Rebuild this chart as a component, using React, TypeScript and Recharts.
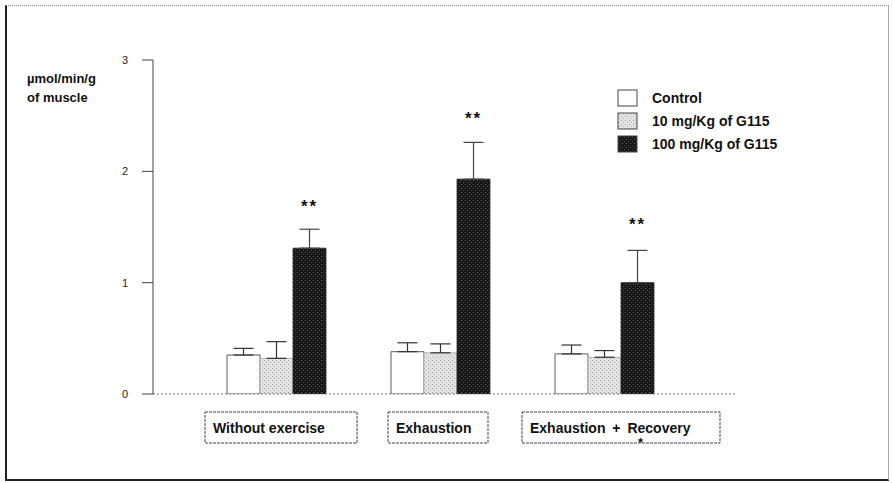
import React from 'react';
import { BarChart, Bar, XAxis, YAxis, ErrorBar, LabelList, Label } from 'recharts';

const categories = ['Without exercise', 'Exhaustion', 'Exhaustion + Recovery'];
const seriesNames = ['Control', '10 mg/Kg of G115', '100 mg/Kg of G115'];
const controlValues = [0.35, 0.38, 0.36];
const controlErrors = [0.06, 0.08, 0.08];
const lowDoseValues = [0.32, 0.37, 0.33];
const lowDoseErrors = [0.15, 0.08, 0.06];
const highDoseValues = [1.31, 1.93, 1.0];
const highDoseErrors = [0.17, 0.33, 0.29];
const significance = ['**', '**', '**'];
const significanceLevels = [1.72, 2.51, 1.55];
const footnotes = ['', '', '*'];
const yTicks = [0, 1, 2, 3];

const FONT = 'Arial, "Liberation Sans", sans-serif';

// label boxes under the groups (style only)
const boxes = [
  { dx: 5, w: 152, fx: 0, ws: 0 },
  { dx: -2, w: 100, fx: 0, ws: 0 },
  { dx: 17, w: 198, fx: 116, ws: 3 },
];

const data = categories.map((name, i) => ({
  name,
  control: controlValues[i],
  controlErr: [0, controlErrors[i]],
  low: lowDoseValues[i],
  lowErr: [0, lowDoseErrors[i]],
  high: highDoseValues[i],
  highErr: [0, highDoseErrors[i]],
}));

function Patterns({ prefix }: { prefix: string }) {
  return (
    <defs>
      <pattern id={prefix + 'light'} width="4" height="4" patternUnits="userSpaceOnUse">
        <rect width="4" height="4" fill="#e4e4e4" />
        <rect x="0" y="0" width="1" height="1" fill="#9a9a9a" />
        <rect x="2" y="2" width="1" height="1" fill="#b0b0b0" />
      </pattern>
      <pattern id={prefix + 'dark'} width="4" height="4" patternUnits="userSpaceOnUse">
        <rect width="4" height="4" fill="#161616" />
        <rect x="1" y="0" width="1" height="1" fill="#6a6a6a" />
        <rect x="3" y="2" width="1" height="1" fill="#555" />
      </pattern>
    </defs>
  );
}

function CategoryTick(props: any) {
  const { x, y, payload, index } = props;
  const b = boxes[index] || boxes[0];
  const left = x + b.dx - b.w / 2;
  const top = y + 18;
  return (
    <g>
      <rect x={left} y={top} width={b.w} height={31} fill="#fff" stroke="#444" strokeWidth={1} strokeDasharray="3 1" />
      <text x={left + 8} y={top + 21} fontFamily={FONT} fontSize={14} fontWeight="bold" fill="#111" wordSpacing={b.ws}>
        {payload.value}
      </text>
      {footnotes[index] ? (
        <text x={left + b.fx} y={top + 35} fontFamily={FONT} fontSize={13} fontWeight="bold" fill="#111">
          {footnotes[index]}
        </text>
      ) : null}
    </g>
  );
}

function StarLabel(props: any) {
  const { x, y, width, height, value, index } = props;
  if (!value) return null;
  const pxPerUnit = height / value;
  const sy = y + height - significanceLevels[index] * pxPerUnit;
  return (
    <text x={x + width / 2} y={sy + 9} textAnchor="middle" fontFamily={FONT} fontSize={17} fontWeight="bold" fill="#111" letterSpacing={2}>
      {significance[index]}
    </text>
  );
}

function YUnit(props: any) {
  const { viewBox } = props;
  return (
    <text fontFamily={FONT} fontSize={13} fontWeight="bold" fill="#111">
      <tspan x={viewBox.x + 27} y={viewBox.y + 23}>µmol/min/g</tspan>
      <tspan x={viewBox.x + 27} y={viewBox.y + 42}>of muscle</tspan>
    </text>
  );
}

const legendFills = ['#fff', 'lgd-light', 'lgd-dark'];

export default function App() {
  return (
    <div style={{ position: 'fixed', left: 0, top: 0, width: 893, height: 483, background: '#fff' }}>
      <div
        style={{
          position: 'absolute', left: 5, top: 5, width: 881, height: 473,
          borderLeft: '2px solid #222', borderTop: '1px dotted #888',
          borderRight: '1px solid #aaa', borderBottom: '2px solid #222',
        }}
      />
      <div style={{ position: 'absolute', left: 0, top: 0 }}>
        <BarChart
          width={893}
          height={483}
          data={data}
          margin={{ top: 60, right: 158, bottom: 29, left: 0 }}
          barGap={0}
          barSize={33}
        >
          <Patterns prefix="bar-" />
          <XAxis
            dataKey="name"
            height={60}
            padding={{ left: 41, right: 49 }}
            axisLine={{ stroke: '#777', strokeDasharray: '2 2' }}
            tickLine={false}
            tickSize={0}
            tickMargin={0}
            interval={0}
            tick={<CategoryTick />}
          />
          <YAxis
            width={153}
            domain={[0, 3]}
            ticks={yTicks}
            allowDataOverflow
            axisLine={{ stroke: '#444' }}
            tickLine={{ stroke: '#444' }}
            tickSize={11}
            tickMargin={14}
            tick={{ fontFamily: FONT, fontSize: 11, fill: '#222' }}
          >
            <Label content={<YUnit />} />
          </YAxis>
          <Bar dataKey="control" name={seriesNames[0]} fill="#fff" stroke="#333" strokeWidth={0.8} isAnimationActive={false}>
            <ErrorBar dataKey="controlErr" width={10} stroke="#333" strokeWidth={1.2} direction="y" />
          </Bar>
          <Bar dataKey="low" name={seriesNames[1]} fill="url(#bar-light)" stroke="#aaa" strokeWidth={0.8} isAnimationActive={false}>
            <ErrorBar dataKey="lowErr" width={10} stroke="#333" strokeWidth={1.2} direction="y" />
          </Bar>
          <Bar dataKey="high" name={seriesNames[2]} fill="url(#bar-dark)" stroke="#222" strokeWidth={0.8} isAnimationActive={false}>
            <ErrorBar dataKey="highErr" width={10} stroke="#444" strokeWidth={1.2} direction="y" />
            <LabelList dataKey="high" content={<StarLabel />} />
          </Bar>
        </BarChart>
      </div>
      <div style={{ position: 'absolute', left: 617, top: 86, fontFamily: FONT, fontSize: 14, fontWeight: 'bold', color: '#111' }}>
        <svg width={0} height={0} style={{ position: 'absolute' }}>
          <Patterns prefix="lgd-" />
        </svg>
        {seriesNames.map((n, i) => (
          <div key={n} style={{ display: 'flex', alignItems: 'center', height: 23 }}>
            <svg width={22} height={18} style={{ marginRight: 13 }}>
              <rect
                x={1} y={1} width={19} height={16}
                fill={i === 0 ? legendFills[0] : `url(#${legendFills[i]})`}
                stroke="#444" strokeWidth={1}
              />
            </svg>
            <span>{n}</span>
          </div>
        ))}
      </div>
    </div>
  );
}
